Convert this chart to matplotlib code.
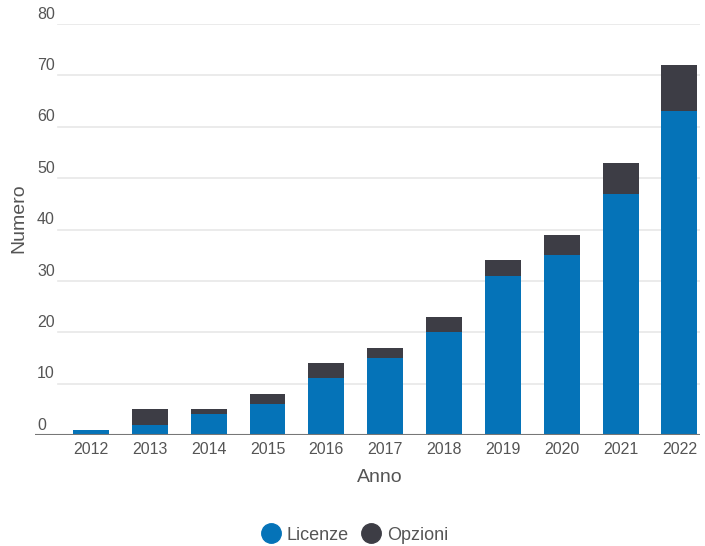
import matplotlib
matplotlib.use("Agg")
import matplotlib.pyplot as plt
from matplotlib.lines import Line2D
import numpy as np

# dati
anni = ["2012", "2013", "2014", "2015", "2016", "2017", "2018", "2019", "2020", "2021", "2022"]
licenze = [1, 2, 4, 6, 11, 15, 20, 31, 35, 47, 63]
opzioni = [0, 3, 1, 2, 3, 2, 3, 3, 4, 6, 9]
y_ticks = [0, 10, 20, 30, 40, 50, 60, 70, 80]

BLU = "#0573b8"
GRIGIO = "#3d3d45"
TESTO = "#555555"

plt.rcParams["font.family"] = ["Liberation Sans", "DejaVu Sans"]

W, H = 705, 546
fig = plt.figure(figsize=(W / 100, H / 100), dpi=100)
left, right, bottom, top = 35, 700, 435, 24
ax = fig.add_axes([left / W, 1 - bottom / H, (right - left) / W, (bottom - top) / H])

x = np.arange(len(anni))
ax.bar(x, licenze, width=0.61, color=BLU, zorder=3)
ax.bar(x, opzioni, width=0.61, bottom=licenze, color=GRIGIO, zorder=3)

ax.set_xlim(-0.95, 10.35)
ax.set_ylim(0, 80)

# griglia orizzontale, parte dopo le etichette
gx0 = (58 - left) / (right - left)
for v in y_ticks[1:]:
    ax.axhline(v, xmin=gx0, xmax=1, color="#e8e8e8", lw=1.2, zorder=1)
ax.axhline(0, color="#777777", lw=1.5, zorder=4)

# etichette asse y sopra le linee
for v in y_ticks:
    ax.text(0.003, v + 1.9, str(v), transform=ax.get_yaxis_transform(),
            ha="left", va="center", fontsize=11.5, color=TESTO)

for s in ax.spines.values():
    s.set_visible(False)
ax.set_yticks([])
ax.set_xticks(x)
ax.set_xticklabels(anni, fontsize=11.5, color=TESTO)
ax.tick_params(axis="x", length=0, pad=5)

fig.text(380 / W, 1 - 477 / H, "Anno", ha="center", va="center",
         fontsize=14, color=TESTO)
fig.text(19 / W, 1 - 218 / H, "Numero", rotation=90, ha="center", va="center",
         fontsize=14, color=TESTO)

handles = [
    Line2D([], [], marker="o", ls="", markersize=14, color=BLU, label="Licenze"),
    Line2D([], [], marker="o", ls="", markersize=14, color=GRIGIO, label="Opzioni"),
]
leg = fig.legend(handles=handles, loc="center", bbox_to_anchor=(355 / W, 1 - 535 / H),
                 ncol=2, frameon=False, fontsize=13, handletextpad=0.4,
                 columnspacing=0.7, handlelength=1.0)
for t in leg.get_texts():
    t.set_color(TESTO)

fig.savefig("out.png", dpi=100)
